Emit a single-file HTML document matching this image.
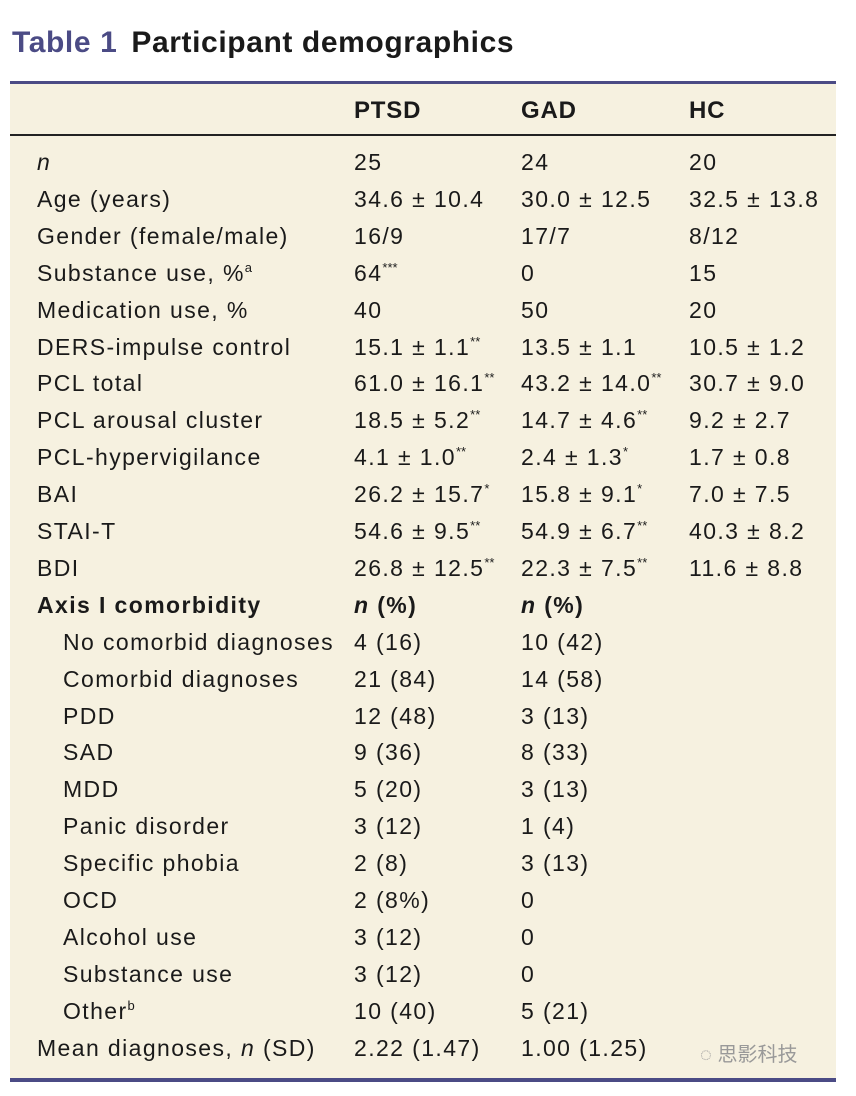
<!DOCTYPE html>
<html><head><meta charset="utf-8"><style>
body{margin:0;width:856px;height:1096px;background:#fff;position:relative;font-family:"Liberation Sans",sans-serif;color:#1a1a1a;overflow:hidden}
.title{position:absolute;left:12px;top:26px;font-size:30px;font-weight:bold;letter-spacing:0.6px}
.title .t{color:#4b4b85;margin-right:14px}
.panel{position:absolute;left:10px;top:82px;width:826px;height:998px;background:#f6f1e0}
.rule{position:absolute;left:10px;width:826px}
.row{position:absolute;left:0;width:856px;height:36px;font-size:23px;line-height:36px;letter-spacing:1.4px}
.row span{position:absolute;white-space:nowrap}
.c0{left:37px}.ci{left:63px}.c1{left:354px}.c2{left:521px}.c3{left:689px}
sup{font-size:13px;line-height:0;vertical-align:9px;letter-spacing:0}
.hdr{font-weight:bold;font-size:24px;letter-spacing:0.8px}
.wm{position:absolute;left:700px;top:1038px;font-size:20px;color:#999;font-family:"Liberation Sans","Noto Sans CJK SC",sans-serif}
</style></head><body>
<div class="title"><span class="t">Table 1</span>Participant demographics</div>
<div class="panel"></div>
<div class="rule" style="top:81px;height:3px;background:#4b4b85"></div>
<div class="rule" style="top:134px;height:2px;background:#222"></div>
<div class="rule" style="top:1078px;height:4px;background:#4b4b85"></div>
<div class="row hdr" style="top:93px"><span class="c1">PTSD</span><span class="c2">GAD</span><span class="c3">HC</span></div>
<div id="rows"></div>
<div class="wm">◌ 思影科技</div>
<script>
const labels=["<i>n</i>","Age (years)","Gender (female/male)","Substance use, %<sup>a</sup>","Medication use, %","DERS-impulse control","PCL total","PCL arousal cluster","PCL-hypervigilance","BAI","STAI-T","BDI","<b>Axis I comorbidity</b>","No comorbid diagnoses","Comorbid diagnoses","PDD","SAD","MDD","Panic disorder","Specific phobia","OCD","Alcohol use","Substance use","Other<sup>b</sup>","Mean diagnoses, <i>n</i> (SD)"];
const indent=[0,0,0,0,0,0,0,0,0,0,0,0,0,1,1,1,1,1,1,1,1,1,1,1,0];
const ptsd=["25","34.6 ± 10.4","16/9","64<sup>***</sup>","40","15.1 ± 1.1<sup>**</sup>","61.0 ± 16.1<sup>**</sup>","18.5 ± 5.2<sup>**</sup>","4.1 ± 1.0<sup>**</sup>","26.2 ± 15.7<sup>*</sup>","54.6 ± 9.5<sup>**</sup>","26.8 ± 12.5<sup>**</sup>","<b><i>n</i> (%)</b>","4 (16)","21 (84)","12 (48)","9 (36)","5 (20)","3 (12)","2 (8)","2 (8%)","3 (12)","3 (12)","10 (40)","2.22 (1.47)"];
const gad=["24","30.0 ± 12.5","17/7","0","50","13.5 ± 1.1","43.2 ± 14.0<sup>**</sup>","14.7 ± 4.6<sup>**</sup>","2.4 ± 1.3<sup>*</sup>","15.8 ± 9.1<sup>*</sup>","54.9 ± 6.7<sup>**</sup>","22.3 ± 7.5<sup>**</sup>","<b><i>n</i> (%)</b>","10 (42)","14 (58)","3 (13)","8 (33)","3 (13)","1 (4)","3 (13)","0","0","0","5 (21)","1.00 (1.25)"];
const hc=["20","32.5 ± 13.8","8/12","15","20","10.5 ± 1.2","30.7 ± 9.0","9.2 ± 2.7","1.7 ± 0.8","7.0 ± 7.5","40.3 ± 8.2","11.6 ± 8.8","","","","","","","","","","","","",""];
const host=document.getElementById('rows');
labels.forEach((l,i)=>{
  const r=document.createElement('div');
  r.className='row';
  r.style.top=(144+i*36.9)+'px';
  
  
  r.innerHTML='<span class="'+(indent[i]?'ci':'c0')+'">'+l+'</span><span class="c1">'+ptsd[i]+'</span><span class="c2">'+gad[i]+'</span><span class="c3">'+hc[i]+'</span>';
  host.appendChild(r);
});
</script>
</body></html>
